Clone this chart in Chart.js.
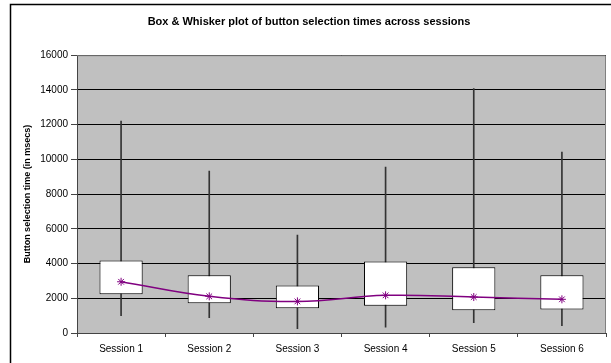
<!DOCTYPE html>
<html>
<head>
<meta charset="utf-8">
<script src="https://cdn.jsdelivr.net/npm/chart.js@4"></script>
<style>
  html, body { margin: 0; padding: 0; background: #fff; }
  #wrap { width: 611px; height: 363px; }
</style>
</head>
<body>
<div id="wrap"><canvas id="boxChart" width="611" height="363"></canvas></div>
<script>
// session data (msecs)
const sessions = ['Session 1', 'Session 2', 'Session 3', 'Session 4', 'Session 5', 'Session 6'];
const whiskerLow = [1000, 880, 250, 330, 590, 420];
const boxLow = [2230, 1710, 1420, 1570, 1310, 1360];
const boxHigh = [4180, 3320, 2740, 4120, 3780, 3320];
const whiskerHigh = [12200, 9320, 5640, 9550, 14080, 10420];
const centre = [2950, 2110, 1820, 2170, 2070, 1940];
const yTicks = [0, 2000, 4000, 6000, 8000, 10000, 12000, 14000, 16000];

const FONT = 'Liberation Sans, Arial, sans-serif';
const PLOT_GREY = '#c0c0c0';
const PURPLE = '#800080';

// grey plot area + outer frame, Excel style
const frame = {
  id: 'frame',
  beforeDraw(chart) {
    const { ctx, chartArea: a } = chart;
    ctx.save();
    ctx.fillStyle = PLOT_GREY;
    ctx.fillRect(a.left, a.top, a.right - a.left, a.bottom - a.top);
    ctx.strokeStyle = '#000';
    ctx.lineWidth = 1.5;
    ctx.strokeRect(10.5, 4.5, chart.width + 10, chart.height + 10);
    ctx.restore();
  },
  afterDatasetsDraw(chart) {
    const { ctx, chartArea: a } = chart;
    ctx.save();
    ctx.strokeStyle = '#808080';
    ctx.lineWidth = 1;
    ctx.beginPath();
    ctx.moveTo(a.left, a.top + 0.5);
    ctx.lineTo(a.right - 0.5, a.top + 0.5);
    ctx.lineTo(a.right - 0.5, a.bottom);
    ctx.stroke();
    ctx.restore();
  }
};

new Chart(document.getElementById('boxChart'), {
  data: {
    labels: sessions,
    datasets: [
      {
        type: 'line',
        label: 'centre',
        data: centre,
        borderColor: PURPLE,
        borderWidth: 1.5,
        tension: 0.4,
        pointStyle: 'star',
        pointRadius: 4,
        pointBorderColor: PURPLE,
        pointBorderWidth: 1,
        order: 0,
      },
      {
        type: 'bar',
        label: 'box',
        data: sessions.map((s, i) => [boxLow[i], boxHigh[i]]),
        backgroundColor: '#fff',
        borderColor: '#000',
        borderWidth: 1,
        borderSkipped: false,
        grouped: false,
        categoryPercentage: 1,
        barPercentage: 0.49,
        order: 1,
      },
      {
        type: 'bar',
        label: 'whisker',
        data: sessions.map((s, i) => [whiskerLow[i], whiskerHigh[i]]),
        backgroundColor: '#333',
        grouped: false,
        barThickness: 1,
        order: 2,
      },
    ],
  },
  options: {
    responsive: false,
    animation: false,
    layout: { padding: { left: 10, right: 3, top: 0, bottom: 0 } },
    plugins: {
      legend: { display: false },
      tooltip: { enabled: false },
      title: {
        display: true,
        text: 'Box & Whisker plot of button selection times across sessions',
        color: '#000',
        font: { family: FONT, size: 11, weight: 'bold' },
        padding: { top: 15, bottom: 27 },
      },
    },
    scales: {
      x: {
        offset: true,
        border: { color: '#444', width: 1 },
        grid: { display: true, drawOnChartArea: false, offset: true, tickLength: 4, color: '#444' },
        ticks: { color: '#000', padding: 6, font: { family: FONT, size: 10 } },
        afterFit(scale) { scale.height = 30; },
      },
      y: {
        min: 0,
        max: 16000,
        afterBuildTicks(scale) { scale.ticks = yTicks.map(v => ({ value: v })); },
        border: { color: '#444', width: 1 },
        grid: { color: '#000', tickColor: '#444', tickLength: 6, lineWidth: 1 },
        ticks: { color: '#000', padding: 3, font: { family: FONT, size: 10 }, callback: v => String(v) },
        title: {
          display: true,
          text: 'Button selection time (in msecs)',
          color: '#000',
          font: { family: FONT, size: 9, weight: 'bold' },
          padding: { top: 12, bottom: 0 },
        },
        afterFit(scale) { scale.width = 67; },
      },
    },
  },
  plugins: [frame],
});
</script>
</body>
</html>
